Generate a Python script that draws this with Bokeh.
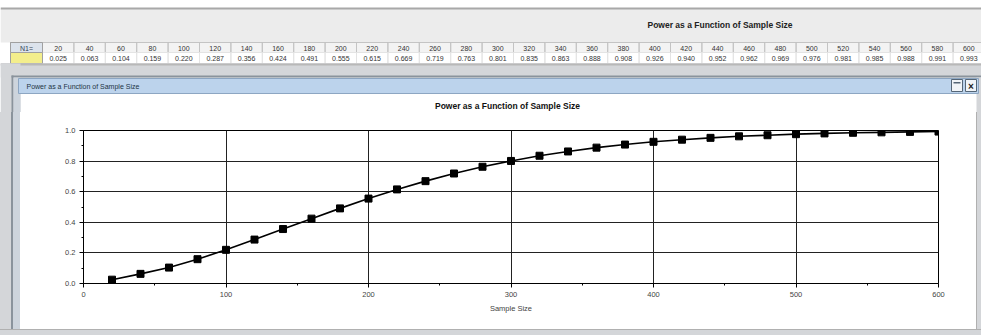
from bokeh.plotting import figure
from bokeh.models import Range1d, FixedTicker, PrintfTickFormatter, ColumnDataSource, Div
from bokeh.layouts import column, row
from bokeh.core.properties import value
from bokeh.embed import file_html
from bokeh.resources import INLINE

# ---- data ----
sample_sizes = [20, 40, 60, 80, 100, 120, 140, 160, 180, 200,
                220, 240, 260, 280, 300, 320, 340, 360, 380, 400,
                420, 440, 460, 480, 500, 520, 540, 560, 580, 600]
power = [0.025, 0.063, 0.104, 0.159, 0.220, 0.287, 0.356, 0.424, 0.491, 0.555,
         0.615, 0.669, 0.719, 0.763, 0.801, 0.835, 0.863, 0.888, 0.908, 0.926,
         0.940, 0.952, 0.962, 0.969, 0.976, 0.981, 0.985, 0.988, 0.991, 0.993]
x_ticks = [0, 100, 200, 300, 400, 500, 600]
x_minor = [50, 150, 250, 350, 450, 550]
y_ticks = [0.0, 0.2, 0.4, 0.6, 0.8, 1.0]
y_minor = [0.1, 0.3, 0.5, 0.7, 0.9]
chart_title = "Power as a Function of Sample Size"
window_title = "Power as a Function of Sample Size"
x_label = "Sample Size"
row_label = "N1="

W, H = 981, 335
HT = 112           # top strip: banner, table, title bar, chart title
HB = 6             # bottom window border
WL = 20            # left window border
WR = 5             # right window border
FONT = "Liberation Sans"
FRAME_GRAY = "#d4d6d9"
DARK = "#8a939c"
INNER = "#cdd4dc"


def blank(width, height):
    f = figure(width=width, height=height, output_backend="svg", toolbar_location=None,
               x_range=Range1d(0, width), y_range=Range1d(height, 0),
               x_axis_type=None, y_axis_type=None, min_border=0)
    f.outline_line_color = None
    f.border_fill_color = "white"
    f.background_fill_color = "white"
    f.grid.visible = False
    return f


def rect(f, l, r, t, b, fill=None, line=None, lw=1):
    f.quad(left=l, right=r, top=t, bottom=b,
           fill_color=fill if fill else "white", fill_alpha=1 if fill else 0,
           line_color=line if line else "white", line_alpha=1 if line else 0, line_width=lw)


def txt(f, xs, ys, texts, size="7px", align="left", bold=False, color="#333333"):
    f.text(x=xs, y=ys, text=texts, text_font=value(FONT), text_font_size=value(size),
           text_align=align, text_baseline="middle", text_color=color,
           text_font_style="bold" if bold else "normal")


# ================= top strip =================
t = blank(W, HT)
rect(t, 0, W, 8, 42, fill="#ececec")
rect(t, 0, W, 7, 9, fill="#a8a8a8")
txt(t, [647], [24], [chart_title], size="8.5px", bold=True, color="#222222")

x0 = 42
cw = 31.4
lefts = [x0 + cw * i for i in range(len(sample_sizes))]
rights = [l + cw for l in lefts]
centers = [l + cw / 2 for l in lefts]
rect(t, 10, W, 42, 63, fill="#ffffff", line="#a0a0a0")
rect(t, 10, W, 42, 52, fill="#f3f3f3", line="#a8a8a8")
t.quad(left=lefts, right=rights, top=42, bottom=52, fill_alpha=0, line_color="#c4c4c4")
t.quad(left=lefts, right=rights, top=52, bottom=63, fill_alpha=0, line_color="#e4e4e4")
rect(t, 10, x0, 42, 52, fill="#dce3ec", line="#a0a0a0")
rect(t, 10, x0, 52, 63, fill="#f3ee8c", line="#a0a0a0")
txt(t, [26], [47.5], [row_label], align="center", color="#334455")
txt(t, centers, [47.5] * len(centers), [str(n) for n in sample_sizes], align="center")
txt(t, centers, [58] * len(centers), ["%.3f" % v for v in power], align="center")

# gray band between the table and the window
rect(t, 0, W, 63, 77, fill=FRAME_GRAY)
rect(t, 0, W, 63, 65, fill="#b8b8b8")

# window frame + title bar
rect(t, 0, WL, 63, HT, fill=FRAME_GRAY)
rect(t, 11, 13, 75, HT, fill=DARK)
rect(t, 11, W, 75, 77, fill=DARK)
rect(t, 13, WL, 77, HT, fill=INNER)
rect(t, W - WR, W, 77, HT, fill=FRAME_GRAY)
rect(t, 18, W - 3, 78, 93, fill="#bcd3ec", line="#8da6c2")
txt(t, [26], [85.5], [window_title], size="7px", color="#223344")
rect(t, 951, 962, 79, 91, fill="#f0f4f8", line="#556677")
rect(t, 953, 960, 81.5, 83, fill="#556677")
rect(t, 965, 976, 79, 91, fill="#f0f4f8", line="#556677")
txt(t, [970.5], [85.5], ["\u00d7"], size="10px", align="center", bold=True, color="#222222")

# chart title
txt(t, [507], [105], [chart_title], size="8.5px", align="center", bold=True, color="#111111")

# ================= window borders (plain blocks) =================
HC = H - HT - HB
left_border = Div(text="", width=WL, height=HC, margin=0, styles={
    "background": "linear-gradient(to right, %s 0px, %s 11px, %s 11px, %s 13px, %s 13px, %s 20px)"
                  % (FRAME_GRAY, FRAME_GRAY, DARK, DARK, INNER, INNER)})
right_border = Div(text="", width=WR, height=HC, margin=0, styles={
    "background": "linear-gradient(to right, #b0b0b0 0px, #b0b0b0 1px, %s 1px)" % FRAME_GRAY})
bottom_border = Div(text="", width=W, height=HB, margin=0, styles={
    "background": "linear-gradient(to bottom, #b0b0b0 0px, #b0b0b0 1px, %s 1px)" % FRAME_GRAY})

# ================= chart =================
WC = W - WL - WR
p = figure(width=WC, height=HC, output_backend="svg", toolbar_location=None,
           x_range=Range1d(0, 600), y_range=Range1d(0, 1),
           min_border_left=83 - WL, min_border_right=(W - WR) - 938,
           min_border_top=130 - HT, min_border_bottom=(HT + HC) - 283)
p.border_fill_color = "white"
p.background_fill_color = "white"
p.outline_line_color = "black"
p.outline_line_width = 1

p.xaxis.ticker = FixedTicker(ticks=x_ticks, minor_ticks=x_minor)
p.yaxis.ticker = FixedTicker(ticks=y_ticks, minor_ticks=y_minor)
p.yaxis.formatter = PrintfTickFormatter(format="%.1f")
for ax in (p.xaxis, p.yaxis):
    ax.axis_line_color = "black"
    ax.major_tick_line_color = "black"
    ax.minor_tick_line_color = "black"
    ax.major_tick_out = 4
    ax.major_tick_in = 0
    ax.minor_tick_out = 2
    ax.minor_tick_in = 0
    ax.major_label_text_font = FONT
    ax.major_label_text_font_size = "7.5px"
    ax.major_label_text_color = "#444444"
p.xaxis.axis_label = x_label
p.xaxis.axis_label_text_font = FONT
p.xaxis.axis_label_text_font_size = "7.5px"
p.xaxis.axis_label_text_font_style = "normal"
p.xaxis.axis_label_text_color = "#444444"
p.xaxis.axis_label_standoff = 4
p.xaxis.major_label_standoff = 4
p.yaxis.major_label_standoff = 4

p.xgrid.grid_line_color = "#222222"
p.ygrid.grid_line_color = "#222222"

src = ColumnDataSource(dict(n=sample_sizes, pw=power))
p.line("n", "pw", source=src, line_color="black", line_width=1.6)
p.scatter("n", "pw", source=src, marker="square", size=7, fill_color="black", line_color="black")

layout = column(t, row(left_border, p, right_border, spacing=0), bottom_border, spacing=0)
open("out.html", "w").write(file_html(layout, INLINE))
